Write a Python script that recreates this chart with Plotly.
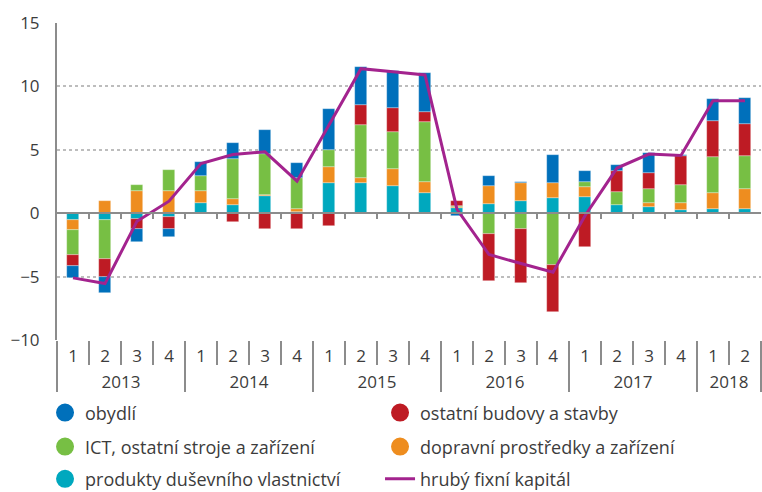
import plotly.graph_objects as go

# ---- data ----
years = ["2013"] * 4 + ["2014"] * 4 + ["2015"] * 4 + ["2016"] * 4 + ["2017"] * 4 + ["2018"] * 2
quarters = ["1", "2", "3", "4"] * 5 + ["1", "2"]

produkty = [-0.55, -0.55, -0.47, -0.26, 0.79, 0.68, 1.37, 0.10, 2.37, 2.37, 2.16, 1.58,
            0.40, 0.71, 0.97, 1.18, 1.26, 0.66, 0.45, 0.26, 0.32, 0.32]
dopravni = [-0.79, 1.00, 1.76, 1.76, 0.97, 0.42, 0.10, 0.26, 1.26, 0.39, 1.29, 0.87,
            0.10, 1.45, 1.39, 1.18, 0.82, -0.10, 0.34, 0.53, 1.29, 1.55]
ict = [-1.95, -3.05, 0.50, 1.68, 1.18, 3.21, 3.16, 2.45, 1.37, 4.18, 2.92, 4.71,
       0.10, -1.63, -1.24, -4.10, 0.39, 1.00, 1.13, 1.45, 2.82, 2.63]
budovy = [-0.89, -1.42, -0.76, -0.97, -0.10, -0.66, -1.24, -1.24, -1.03, 1.58, 1.92, 0.84,
          0.35, -3.68, -4.26, -3.66, -2.68, 1.63, 1.24, 2.24, 2.82, 2.53]
obydli = [-0.92, -1.26, -1.05, -0.68, 1.08, 1.26, 1.92, 1.18, 3.21, 3.00, 2.92, 3.03,
          -0.20, 0.79, 0.08, 2.21, 0.87, 0.53, 1.58, 0.13, 1.76, 2.08]
hfk = [-5.10, -5.55, -0.63, 0.95, 3.92, 4.63, 4.84, 2.53, 6.95, 11.40, 11.16, 10.90,
       0.30, -3.26, -3.97, -4.66, -0.20, 3.56, 4.66, 4.55, 8.87, 8.87]

ytick_vals = [-10, -5, 0, 5, 10, 15]
ytick_text = ["\u221210", "\u22125", "0", "5", "10", "15"]

# ---- derived category helpers ----
n = len(quarters)
cats = [f"{y}-{q}" for y, q in zip(years, quarters)]
year_names = list(dict.fromkeys(years))
year_first = [years.index(y) for y in year_names]
year_count = [years.count(y) for y in year_names]
year_centers = [f + (c - 1) / 2 for f, c in zip(year_first, year_count)]
year_bounds = [f - 0.5 for f in year_first] + [n - 0.5]

# ---- style ----
FONT = "Open Sans"
TXT = "#3c3c3c"
AX = "#8c8c8c"
series = [
    ("produkty duševního vlastnictví", produkty, "#00a8be"),
    ("dopravní prostředky a zařízení", dopravni, "#ee8d1f"),
    ("ICT, ostatní stroje a zařízení", ict, "#77bf44"),
    ("ostatní budovy a stavby", budovy, "#be1b24"),
    ("obydlí", obydli, "#0070bb"),
]
legend_of = {
    "obydlí": ("legend", 1),
    "ostatní budovy a stavby": ("legend", 2),
    "ICT, ostatní stroje a zařízení": ("legend2", 1),
    "dopravní prostředky a zařízení": ("legend2", 2),
    "produkty duševního vlastnictví": ("legend3", 1),
}

fig = go.Figure()
for name, vals, col in series:
    fig.add_trace(go.Bar(
        x=cats, y=vals, name=name, marker_color=col, width=0.385,
        marker_line_width=0.6, marker_line_color="rgba(255,255,255,0.5)",
        showlegend=False,
    ))

# legend-only circle markers
for name, vals, col in [series[4], series[3], series[2], series[1], series[0]]:
    lg, rk = legend_of[name]
    fig.add_trace(go.Scatter(
        x=[None], y=[None], mode="markers", name=name, legend=lg, legendrank=rk,
        marker=dict(symbol="circle", size=16, color=col, line=dict(color=col, width=2)),
    ))

fig.add_trace(go.Scatter(
    x=cats, y=hfk, mode="lines", name="hrubý fixní kapitál",
    line=dict(color="#a3238e", width=3), legend="legend3", legendrank=2,
))

# helper axes (zero line, year labels, year dividers) need a trace each
for ax in ["x2", "x3", "x4"]:
    fig.add_trace(go.Scatter(
        x=list(range(n)), y=[None] * n, xaxis=ax,
        mode="lines", showlegend=False, hoverinfo="skip",
    ))

legend_common = dict(
    orientation="h", xanchor="left", yanchor="middle", entrywidth=290,
    font=dict(family=FONT, size=18, color=TXT), bgcolor="rgba(0,0,0,0)",
    borderwidth=0, itemclick=False,
)
helper = dict(overlaying="x", range=[-0.5, n - 0.5], showgrid=False, zeroline=False)
fig.update_layout(
    template="none",
    width=762, height=492,
    margin=dict(l=57, r=1, t=23, b=152, autoexpand=False),
    paper_bgcolor="white", plot_bgcolor="white",
    barmode="relative",
    bargap=0,
    font=dict(family=FONT, size=17, color=TXT),
    xaxis=dict(
        type="category", categoryorder="array", categoryarray=cats,
        range=[-0.5, n - 0.5], tickmode="array", tickvals=cats, ticktext=quarters,
        showline=False, showgrid=False, zeroline=False,
        ticks="outside", tickson="boundaries", ticklen=24, tickwidth=1.5, tickcolor=AX,
        tickfont=dict(family=FONT, size=17, color=TXT),
        ticklabelstandoff=4,
    ),
    xaxis2=dict(
        helper, anchor="free", position=0.4,
        tickvals=[i + 0.5 for i in range(n - 1)], ticks="outside", ticklen=5,
        tickwidth=1.5, tickcolor=AX, showticklabels=False,
        showline=True, linecolor=AX, linewidth=2, layer="above traces",
    ),
    xaxis3=dict(
        helper, anchor="y", side="bottom", tickvals=year_centers, ticktext=year_names,
        ticks="", showline=False, ticklabelstandoff=30,
        tickfont=dict(family=FONT, size=17, color=TXT),
    ),
    xaxis4=dict(
        helper, anchor="y", side="bottom", tickvals=year_bounds, ticks="outside",
        ticklen=51, tickwidth=1.5, tickcolor=AX, showticklabels=False, showline=False,
    ),
    yaxis=dict(
        range=[-10, 15], tickvals=ytick_vals, ticktext=ytick_text,
        showgrid=True, griddash="dot", gridcolor="#bdbdbd", gridwidth=1.5,
        zeroline=False, showline=True, linecolor=AX, linewidth=2,
        ticks="", ticklabelstandoff=12,
        tickfont=dict(family=FONT, size=17, color=TXT),
    ),
    legend=dict(legend_common, x=-0.017, y=-0.230),
    legend2=dict(legend_common, x=-0.017, y=-0.337),
    legend3=dict(legend_common, x=-0.017, y=-0.439),
    showlegend=True,
)

fig.write_html("out.html", config={"displayModeBar": False},
               post_script="document.body.style.margin='0px';")
